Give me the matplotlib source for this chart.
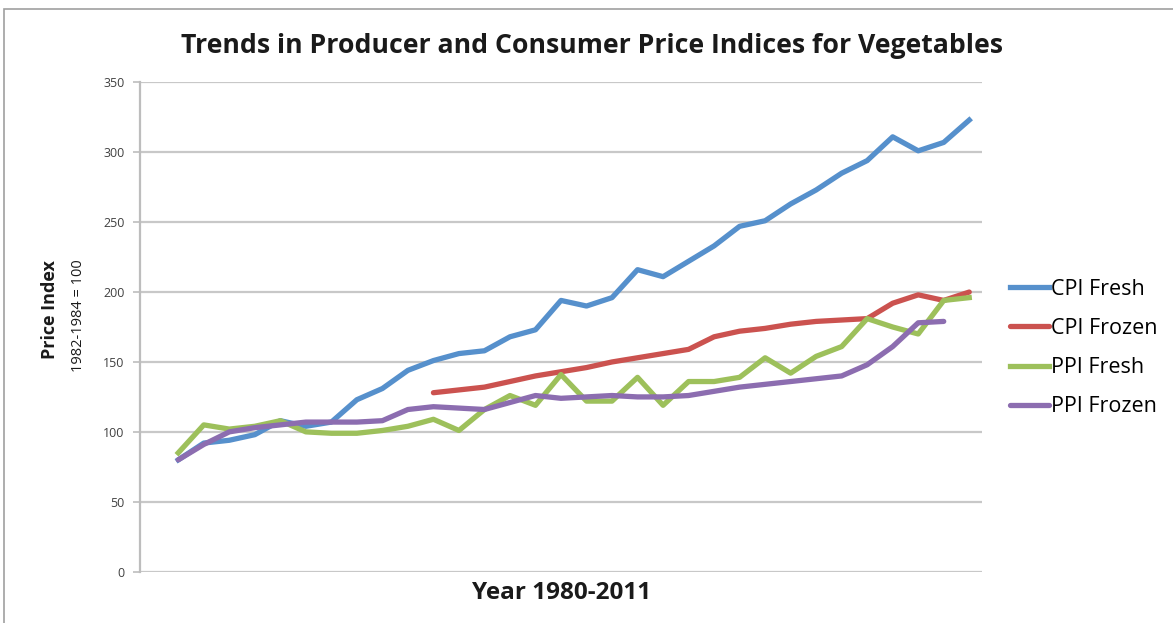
import matplotlib
matplotlib.use("Agg")
import matplotlib.pyplot as plt
from matplotlib.patches import Rectangle
import numpy as np

# annual index values, 1980-2011 (1982-1984 = 100)
years = list(range(1980, 2012))
cpi_fresh = [80, 92, 94, 98, 108, 104, 107, 123, 131, 144, 151, 156, 158, 168, 173, 194,
             190, 196, 216, 211, 222, 233, 247, 251, 263, 273, 285, 294, 311, 301, 307, 323]
# CPI frozen starts in 1990
cpi_frozen = [128, 130, 132, 136, 140, 143, 146, 150, 153, 156, 159,
              168, 172, 174, 177, 179, 180, 181, 192, 198, 194, 200]
ppi_fresh = [85, 105, 102, 104, 108, 100, 99, 99, 101, 104, 109, 101, 116, 126, 119, 141,
             122, 122, 139, 119, 136, 136, 139, 153, 142, 154, 161, 181, 175, 170, 194, 196]
# PPI frozen ends in 2010
ppi_frozen = [80, 91, 100, 103, 105, 107, 107, 107, 108, 116, 118, 117, 116, 121, 126, 124,
              125, 126, 125, 125, 126, 129, 132, 134, 136, 138, 140, 148, 161, 178, 179]
yticks = [0, 50, 100, 150, 200, 250, 300, 350]

plt.rcParams['font.family'] = ['Open Sans', 'DejaVu Sans']

W, H = 1173, 623
fig = plt.figure(figsize=(W / 100, H / 100), dpi=100)
ax = fig.add_axes([140 / W, 1 - 571.7 / H, 842 / W, 489.4 / H])

x = np.arange(len(years))
lw = 3.8
ax.plot(x, cpi_fresh, color='#5690CC', lw=lw, label='CPI Fresh', solid_joinstyle='round')
ax.plot(x[10:10 + len(cpi_frozen)], cpi_frozen, color='#CB524F', lw=lw, label='CPI Frozen',
        solid_joinstyle='round', solid_capstyle='round')
ax.plot(x, ppi_fresh, color='#9DC05B', lw=lw, label='PPI Fresh', solid_joinstyle='round')
ax.plot(x[:len(ppi_frozen)], ppi_frozen, color='#8C6DB0', lw=lw, label='PPI Frozen',
        solid_joinstyle='round', solid_capstyle='round')

# category axis has one empty slot before 1980
ax.set_xlim(-1.5, len(years) - 0.5)
ax.set_ylim(0, 350)
ax.set_yticks(yticks)
ax.set_xticks([])
ax.grid(axis='y', color='#C8C8C8', lw=1.6)
ax.set_axisbelow(True)
for s in ['top', 'right', 'bottom']:
    ax.spines[s].set_visible(False)
ax.spines['left'].set_color('#BDBDBD')
ax.spines['left'].set_linewidth(1.6)
ax.tick_params(axis='y', length=5, width=1.2, color='#BDBDBD', labelsize=9,
               labelcolor='#404040', pad=6)

fig.text(592 / W, 1 - 46 / H, 'Trends in Producer and Consumer Price Indices for Vegetables',
         ha='center', va='center', fontsize=19.2, fontweight='bold', color='#1a1a1a')
fig.text(562 / W, 1 - 593 / H, 'Year 1980-2011', ha='center', va='center',
         fontsize=17.5, fontweight='bold', color='#1a1a1a')
fig.text(50 / W, 1 - 310 / H, 'Price Index', ha='center', va='center', rotation=90,
         fontsize=13, fontweight='bold', color='#1a1a1a')
fig.text(79 / W, 1 - 316 / H, '1982-1984 = 100', ha='center', va='center', rotation=90,
         fontsize=10.5, color='#1a1a1a')

ax.legend(loc='center left', bbox_to_anchor=(1010 / W, 1 - 348 / H),
          bbox_transform=fig.transFigure, frameon=False, fontsize=15.5,
          handlelength=1.8, handletextpad=0.1, labelspacing=0.85,
          borderaxespad=0, borderpad=0)

# chart area border
fig.patches.append(Rectangle((4 / W, -0.1), 1.2, 1 - 9 / H + 0.1, transform=fig.transFigure,
                             fill=False, edgecolor='#A0A0A0', lw=1.2))

fig.savefig('out.png', dpi=100)
